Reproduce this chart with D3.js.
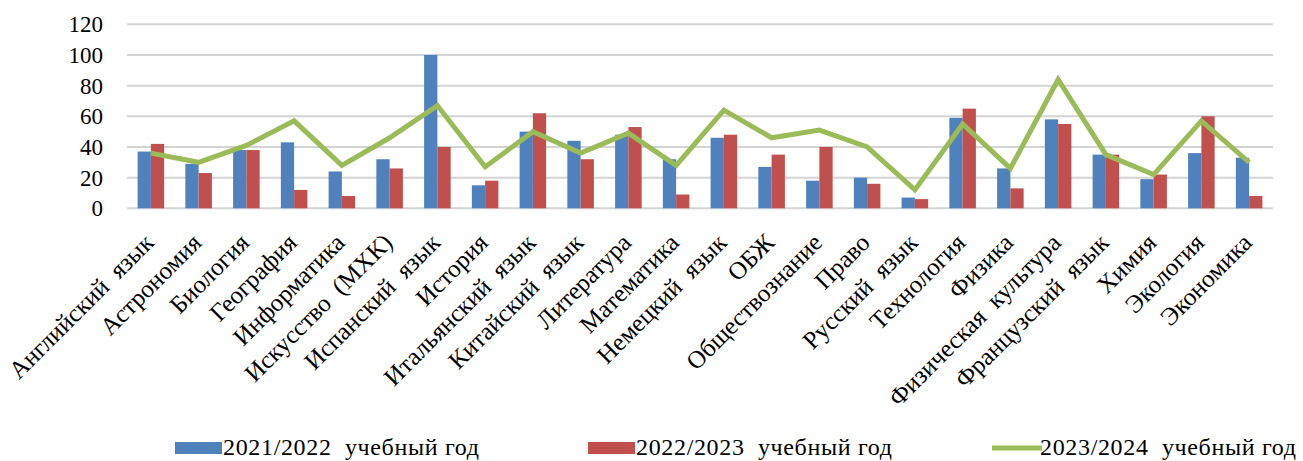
<!DOCTYPE html>
<html>
<head>
<meta charset="utf-8">
<script src="https://cdn.jsdelivr.net/npm/d3@7"></script>
<style>
  body { margin: 0; background: #fff; }
  text { font-family: "Liberation Serif", "Times New Roman", serif; fill: #000; }
  .grid line { stroke: #d4d4d4; stroke-width: 2; }
  .axis path, .axis line { display: none; }
</style>
</head>
<body>
<svg></svg>
<script>
var subjects = ["Английский  язык", "Астрономия", "Биология", "География", "Информатика",
  "Искусство  (МХК)", "Испанский  язык", "История", "Итальянский  язык", "Китайский  язык",
  "Литература", "Математика", "Немецкий  язык", "ОБЖ", "Обществознание", "Право",
  "Русский  язык", "Технология", "Физика", "Физическая  культура", "Французский  язык",
  "Химия", "Экология", "Экономика"];
var year2122 = [37, 29, 38, 43, 24, 32, 100, 15, 50, 44, 48, 32, 46, 27, 18, 20, 7, 59, 26, 58, 35, 19, 36, 33];
var year2223 = [42, 23, 38, 12, 8, 26, 40, 18, 62, 32, 53, 9, 48, 35, 40, 16, 6, 65, 13, 55, 35, 22, 60, 8];
var year2324 = [36, 30, 41, 57, 28, 46, 67, 27, 50, 36, 49, 28, 64, 46, 51, 40, 12, 55, 26, 84, 35, 22, 57, 30];
var yTicks = [0, 20, 40, 60, 80, 100, 120];
var seriesNames = ["2021/2022  учебный год", "2022/2023  учебный год", "2023/2024  учебный год"];
var colors = ["#4f81bd", "#c0504d", "#9bbb59"];

var width = 1303, height = 461;
var svg = d3.select("svg").attr("width", width).attr("height", height);

var x = d3.scaleBand().domain(subjects).range([127, 1273]);
var xInner = d3.scaleBand().domain([0, 1]).range([0, x.bandwidth()]).paddingOuter(0.8);
var y = d3.scaleLinear().domain([0, 120]).range([208.3, 24.3]);

// gridlines
svg.append("g").attr("class", "grid")
  .selectAll("line").data(yTicks).enter().append("line")
  .attr("x1", 127).attr("x2", 1273)
  .attr("y1", d => y(d)).attr("y2", d => y(d));

// y axis labels
svg.append("g").attr("class", "axis")
  .attr("transform", "translate(103,0)")
  .call(d3.axisLeft(y).tickValues(yTicks).tickSize(0).tickPadding(0))
  .call(g => g.selectAll("text").attr("font-size", 23).attr("font-family", null));

// bars
[year2122, year2223].forEach(function (vals, s) {
  svg.append("g").selectAll("rect").data(vals).enter().append("rect")
    .attr("x", (d, i) => x(subjects[i]) + xInner(s))
    .attr("width", xInner.bandwidth())
    .attr("y", d => y(d))
    .attr("height", d => y(0) - y(d))
    .attr("fill", colors[s]);
});

// line
var line = d3.line()
  .x((d, i) => x(subjects[i]) + x.bandwidth() / 2)
  .y(d => y(d));
svg.append("path").attr("d", line(year2324))
  .attr("fill", "none").attr("stroke", colors[2]).attr("stroke-width", 5)
  .attr("stroke-linejoin", "miter");

// category labels
svg.append("g").selectAll("text").data(subjects).enter().append("text")
  .attr("transform", d => "translate(" + (x(d) + x.bandwidth() / 2 - 2) + ",238) rotate(-45)")
  .attr("text-anchor", "end")
  .attr("dy", "0.35em")
  .attr("font-size", 25)
  .style("white-space", "pre")
  .text(d => d);

// legend
var legendX = [175, 588, 992];
var lg = svg.append("g").selectAll("g").data(seriesNames).enter().append("g")
  .attr("transform", (d, i) => "translate(" + legendX[i] + ",448)");
lg.each(function (d, i) {
  var g = d3.select(this);
  if (i < 2) {
    g.append("rect").attr("x", 0).attr("y", -6).attr("width", 47).attr("height", 12).attr("fill", colors[i]);
  } else {
    g.append("line").attr("x1", 0).attr("x2", 50).attr("y1", 0).attr("y2", 0)
      .attr("stroke", colors[i]).attr("stroke-width", 5);
  }
  g.append("text").attr("x", 48).attr("y", 7).attr("font-size", 24)
    .attr("textLength", 256).attr("lengthAdjust", "spacing")
    .style("white-space", "pre").text(d);
});
</script>
</body>
</html>
